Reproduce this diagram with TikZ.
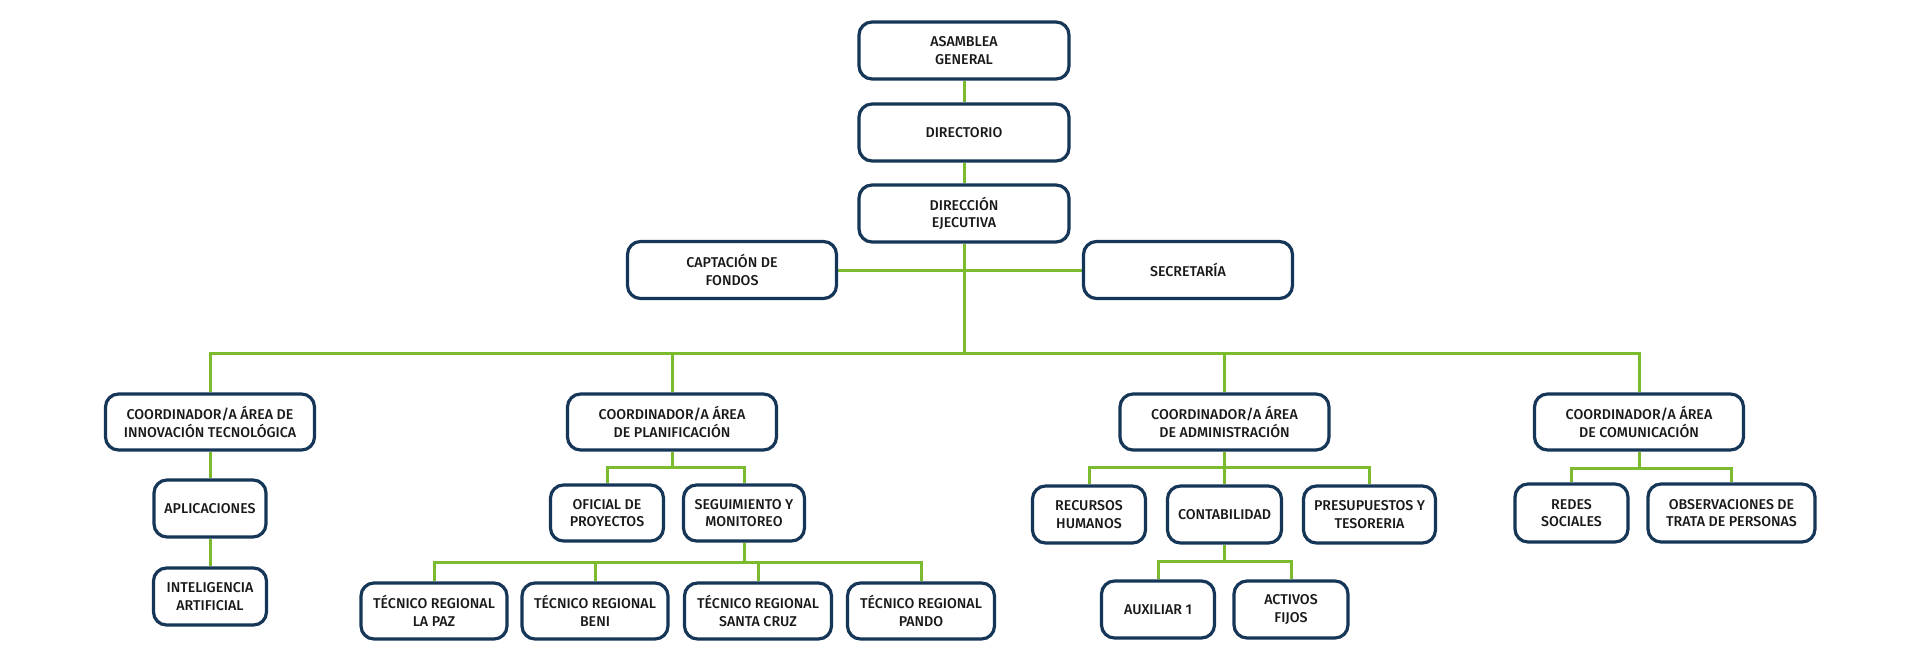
\documentclass[tikz,border=0pt]{standalone}
\usepackage{fontspec}
\setmainfont{Fira Sans}[UprightFont={* Medium}]
\usetikzlibrary{backgrounds}
\definecolor{navy}{RGB}{22,54,88}
\definecolor{lgreen}{RGB}{124,187,45}
\tikzset{
  box/.style={draw=navy, line width=3.2pt, fill=white, rounded corners=13pt,
    align=center, inner sep=0pt, font=\fontsize{14.2}{17.5}\selectfont, text=black!90},
  conn/.style={draw=lgreen, line width=3pt}
}
\begin{document}
\begin{tikzpicture}[x=1pt,y=-1pt]
\useasboundingbox (0,0) rectangle (1920,658);
% top
\node[box, minimum width=210, minimum height=57] (asam) at (964,50.5) {ASAMBLEA\\GENERAL};
\node[box, minimum width=210, minimum height=57] (dir) at (964,132.5) {DIRECTORIO};
\node[box, minimum width=210, minimum height=57] (dej) at (964,213.5) {DIRECCIÓN\\EJECUTIVA};
\node[box, minimum width=209, minimum height=57] (capt) at (732,270) {CAPTACIÓN DE\\FONDOS};
\node[box, minimum width=209, minimum height=57] (secr) at (1188,270) {SECRETARÍA};
% coordinators
\node[box, minimum width=209, minimum height=56] (cinn) at (210,422) {COORDINADOR/A ÁREA DE\\INNOVACIÓN TECNOLÓGICA};
\node[box, minimum width=209, minimum height=56] (cpla) at (672,422) {COORDINADOR/A ÁREA\\DE PLANIFICACIÓN};
\node[box, minimum width=209, minimum height=56] (cadm) at (1224.5,422) {COORDINADOR/A ÁREA\\DE ADMINISTRACIÓN};
\node[box, minimum width=209, minimum height=56] (ccom) at (1639,422) {COORDINADOR/A ÁREA\\DE COMUNICACIÓN};
% innovation
\node[box, minimum width=112, minimum height=57] (apl) at (210,508.5) {APLICACIONES};
\node[box, minimum width=113, minimum height=57] (ia) at (210,596.5) {INTELIGENCIA\\ARTIFICIAL};
% planning
\node[box, minimum width=113, minimum height=56] (ofi) at (607,513) {OFICIAL DE\\PROYECTOS};
\node[box, minimum width=121, minimum height=56] (seg) at (744,513) {SEGUIMIENTO Y\\MONITOREO};
\node[box, minimum width=146, minimum height=56] (tlp) at (434,611) {TÉCNICO REGIONAL\\LA PAZ};
\node[box, minimum width=146, minimum height=56] (tbe) at (595,611) {TÉCNICO REGIONAL\\BENI};
\node[box, minimum width=147, minimum height=56] (tsc) at (758,611) {TÉCNICO REGIONAL\\SANTA CRUZ};
\node[box, minimum width=147, minimum height=56] (tpa) at (921,611) {TÉCNICO REGIONAL\\PANDO};
% administration
\node[box, minimum width=113, minimum height=57] (rrhh) at (1089,514.5) {RECURSOS\\HUMANOS};
\node[box, minimum width=114, minimum height=57] (cont) at (1224.5,514.5) {CONTABILIDAD};
\node[box, minimum width=132, minimum height=57] (pres) at (1369.5,514.5) {PRESUPUESTOS Y\\TESORERIA};
\node[box, minimum width=113, minimum height=57] (aux) at (1158,609.5) {AUXILIAR 1};
\node[box, minimum width=114, minimum height=57] (act) at (1291,609.5) {ACTIVOS\\FIJOS};
% communication
\node[box, minimum width=113, minimum height=58] (redes) at (1571.5,513) {REDES\\SOCIALES};
\node[box, minimum width=167, minimum height=58] (obs) at (1731.5,513) {OBSERVACIONES DE\\TRATA DE PERSONAS};
% bus coordinates
\coordinate (bmain) at (964,353);
\coordinate (bpla) at (672,467);
\coordinate (btec) at (744,562);
\coordinate (badm) at (1224.5,467);
\coordinate (bcon) at (1224.5,561);
\coordinate (bcom) at (1639,468);
\begin{scope}[on background layer]
\draw[conn] (asam.south) -- (dir.north);
\draw[conn] (dir.south) -- (dej.north);
\draw[conn] (dej.south) -- (bmain);
\draw[conn] (capt.east) -- (secr.west);
\draw[conn] (cinn.north) |- (bmain) -| (ccom.north);
\draw[conn] (cpla.north) |- (bmain) -| (cadm.north);
\draw[conn] (cinn.south) -- (apl.north);
\draw[conn] (apl.south) -- (ia.north);
\draw[conn] (cpla.south) -- (bpla);
\draw[conn] (ofi.north) |- (bpla) -| (seg.north);
\draw[conn] (seg.south) -- (btec);
\draw[conn] (tlp.north) |- (btec) -| (tpa.north);
\draw[conn] (tbe.north) |- (btec) -| (tsc.north);
\draw[conn] (cadm.south) -- (cont.north);
\draw[conn] (rrhh.north) |- (badm) -| (pres.north);
\draw[conn] (cont.south) -- (bcon);
\draw[conn] (aux.north) |- (bcon) -| (act.north);
\draw[conn] (ccom.south) -- (bcom);
\draw[conn] (redes.north) |- (bcom) -| (obs.north);
\end{scope}
\end{tikzpicture}
\end{document}
